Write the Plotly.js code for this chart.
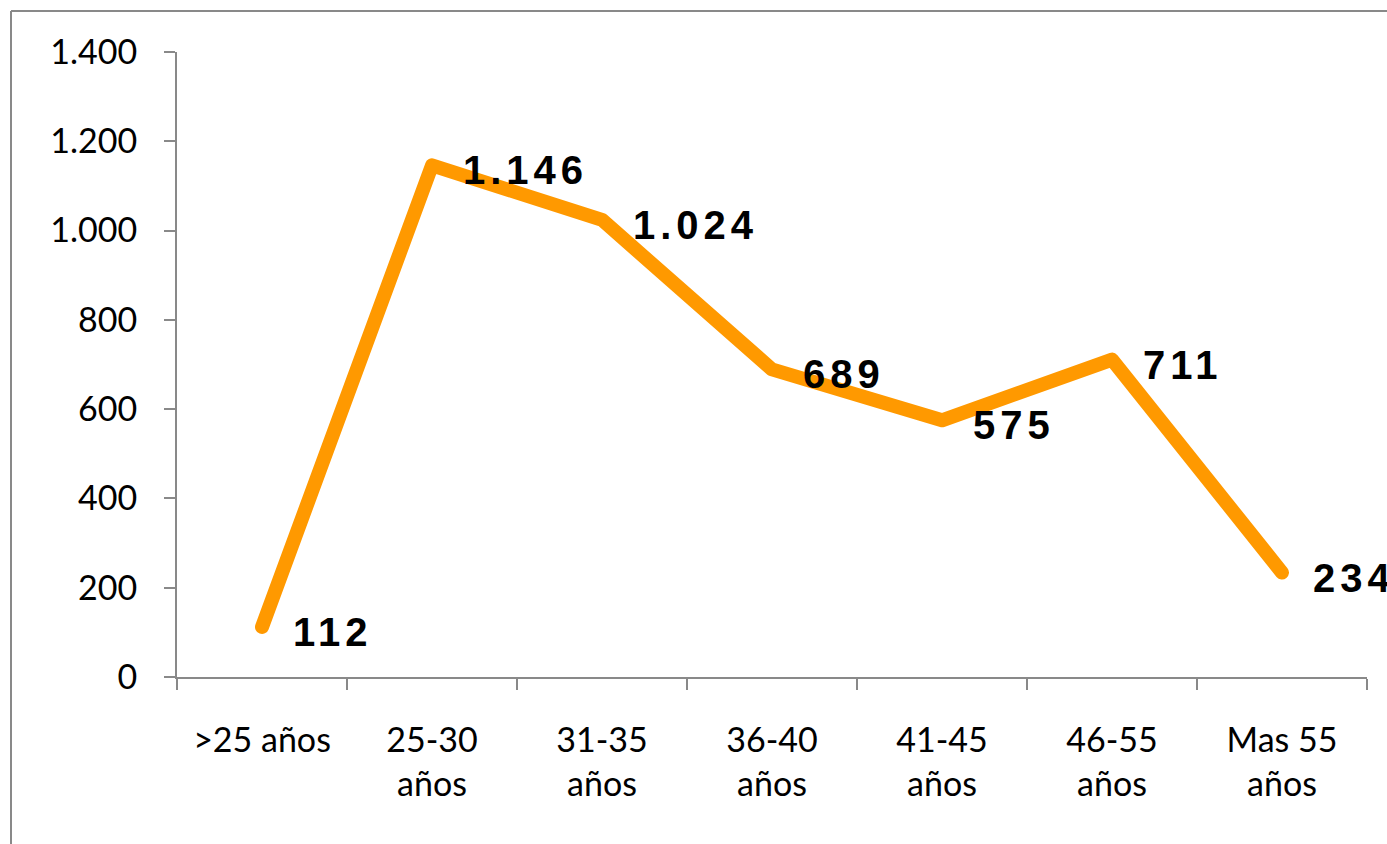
<!DOCTYPE html>
<html><head><meta charset="utf-8">
<script src="https://cdn.plot.ly/plotly-3.0.1.min.js"></script>
<style>
html,body{margin:0;padding:0;background:#fff;}
#chart{width:1387px;height:844px;}
.js-line{stroke-linecap:round;stroke-linejoin:round;}
.annotation-text{letter-spacing:5px;}
</style></head>
<body><div id="chart"></div>
<script>
const categories = [">25 años", "25-30<br>años", "31-35<br>años", "36-40<br>años", "41-45<br>años", "46-55<br>años", "Mas 55<br>años"];
const values = [112, 1146, 1024, 689, 575, 711, 234];
const yTicks = [0, 200, 400, 600, 800, 1000, 1200, 1400];

function fmt(v){ return String(v).replace(/\B(?=(\d{3})+(?!\d))/g, "."); }

const trace = {
  x: categories, y: values, type: "scatter", mode: "lines",
  line: {color: "#FF9900", width: 14},
  hoverinfo: "skip", showlegend: false
};

const annotations = values.map((v, i) => ({
  x: categories[i], y: v, xref: "x", yref: "y",
  text: fmt(v), showarrow: false, xanchor: "left", yanchor: "middle",
  xshift: 29, yshift: -5,
  font: {family: "Liberation Sans, Arial, sans-serif", size: 40, color: "#000", weight: "bold"}
}));

const x0 = (11 - 177) / 1190, y1 = (677 - 11) / 625;
const layout = {
  width: 1387, height: 844,
  margin: {l: 177, r: 20, t: 52, b: 167},
  paper_bgcolor: "#fff", plot_bgcolor: "#fff",
  separators: ",.",
  xaxis: {
    type: "category", range: [-0.5, 6.5], tickson: "boundaries",
    ticks: "outside", ticklen: 11, tickwidth: 2, tickcolor: "#898989",
    showline: true, linecolor: "#898989", linewidth: 2, showgrid: false, zeroline: false,
    tickfont: {family: "Lato, Carlito, sans-serif", size: 34, color: "#000"},
    ticklabelstandoff: 32
  },
  yaxis: {
    range: [0, 1400], tickvals: yTicks, ticktext: yTicks.map(fmt),
    ticks: "outside", ticklen: 11, tickwidth: 2, tickcolor: "#898989",
    showline: true, linecolor: "#898989", linewidth: 2, showgrid: false, zeroline: false,
    tickfont: {family: "Lato, Carlito, sans-serif", size: 34, color: "#000"},
    ticklabelstandoff: 20
  },
  annotations: annotations,
  shapes: [
    {type: "line", xref: "paper", yref: "paper", x0: x0, x1: x0, y0: y1, y1: -0.5, line: {color: "#898989", width: 2}},
    {type: "line", xref: "paper", yref: "paper", x0: x0, x1: 1.5, y0: y1, y1: y1, line: {color: "#898989", width: 2}}
  ]
};

Plotly.newPlot("chart", [trace], layout, {staticPlot: true, displayModeBar: false});
</script></body></html>
